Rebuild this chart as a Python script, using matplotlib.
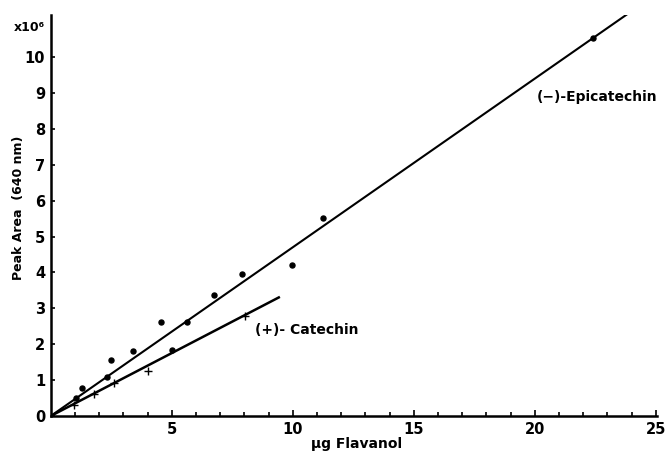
import matplotlib
matplotlib.use("Agg")
import matplotlib.pyplot as plt
import numpy as np

plt.rcParams['font.family'] = ['DejaVu Sans']

# Data (µg flavanol, peak area x10^6)
epi_x = [1.03, 1.31, 2.34, 2.51, 3.40, 4.57, 5.00, 5.63, 6.75, 7.92, 9.99, 11.25, 22.40]
epi_y = [0.49, 0.79, 1.09, 1.56, 1.82, 2.61, 1.85, 2.63, 3.37, 3.96, 4.21, 5.52, 10.54]
cat_x = [0.96, 1.80, 2.63, 4.00, 8.03]
cat_y = [0.31, 0.60, 0.93, 1.26, 2.79]
epi_fit_x = [0.0, 23.87]
epi_fit_y = [0.0, 11.22]
cat_fit_x = [0.0, 9.47]
cat_fit_y = [0.0, 3.32]

xticks = [5, 10, 15, 20, 25]
yticks = [0, 1, 2, 3, 4, 5, 6, 7, 8, 9, 10]

fig = plt.figure(figsize=(6.67, 4.55), dpi=100)
ax = fig.add_axes([0.076, 0.0857, 0.909, 0.881])

ax.plot(epi_fit_x, epi_fit_y, color='black', lw=1.5, solid_capstyle='butt')
ax.plot(cat_fit_x, cat_fit_y, color='black', lw=1.8, solid_capstyle='butt')
ax.plot(epi_x, epi_y, 'o', color='black', ms=3.6, ls='none')
ax.plot(cat_x, cat_y, '+', color='black', ms=6, mew=1.0, ls='none')

ax.set_xlim(0, 25.05)
ax.set_ylim(0, 11.17)

for s in ['top', 'right']:
    ax.spines[s].set_visible(False)
for s in ['left', 'bottom']:
    ax.spines[s].set_linewidth(1.8)

ax.set_xticks(xticks)
ax.set_xticks(np.arange(1, 26, 1), minor=True)
ax.set_yticks(yticks)
ax.tick_params(axis='x', which='major', direction='in', length=4, width=1.2,
               labelsize=10.5, pad=4)
ax.tick_params(axis='x', which='minor', direction='in', length=3, width=1.2)
ax.tick_params(axis='y', which='major', direction='in', length=3, width=1.2,
               labelsize=10.5, pad=4)
for lab in ax.get_xticklabels() + ax.get_yticklabels():
    lab.set_fontweight('bold')

ax.set_xlabel('µg Flavanol', fontsize=10, fontweight='bold')
ax.xaxis.set_label_coords(0.505, -0.052)
ax.set_ylabel('Peak Area  (640 nm)', fontsize=9, fontweight='bold')
ax.yaxis.set_label_coords(-0.042, 0.52)

ax.text(-0.009, 0.970, 'x10⁶', transform=ax.transAxes, ha='right', va='center',
        fontsize=9, fontweight='bold')
ax.text(20.1, 8.89, '(−)-Epicatechin', fontsize=10, fontweight='bold',
        va='center', ha='left')
ax.text(8.44, 2.40, '(+)- Catechin', fontsize=10, fontweight='bold',
        va='center', ha='left')

fig.savefig('out.png', dpi=100)
